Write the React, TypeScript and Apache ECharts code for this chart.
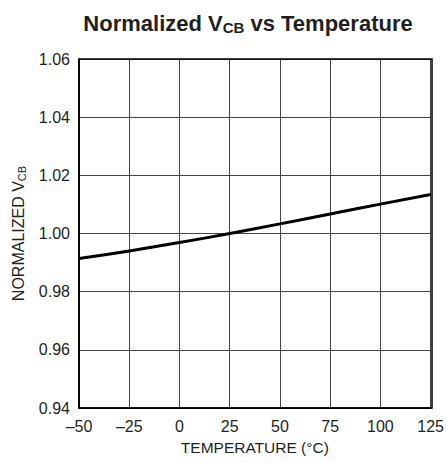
import React, { useEffect, useRef } from "react";
import * as echarts from "echarts";

const temperatures = [-50, -25, 0, 25, 50, 75, 100, 125];
const normalizedVcb = [0.9914, 0.994, 0.9969, 1.0, 1.0033, 1.0067, 1.0101, 1.0134];
const xTicks = { min: -50, max: 125, interval: 25 };
const yTicks = { min: 0.94, max: 1.06, interval: 0.02 };

const FONT = "'Liberation Sans', Arial, sans-serif";
const INK = "#231f20";

export default function App() {
  const ref = useRef<HTMLDivElement>(null);
  useEffect(() => {
    if (!ref.current) return;
    const chart = echarts.init(ref.current, undefined, { renderer: "svg" });
    chart.setOption({
      animation: false,
      backgroundColor: "#fff",
      title: {
        text: "{a|Normalized V}{sub|CB}{a| vs Temperature}",
        left: 243,
        textAlign: "center",
        top: 6,
        textStyle: {
          rich: {
            a: { fontFamily: FONT, fontWeight: "bold", fontSize: 22, color: INK },
            sub: { fontFamily: FONT, fontWeight: "bold", fontSize: 15, color: INK, padding: [9, 0, 0, 0] },
          },
        },
      },
      grid: { left: 79, right: 15, top: 59, bottom: 55, containLabel: false },
      xAxis: {
        type: "value",
        min: xTicks.min,
        max: xTicks.max,
        interval: xTicks.interval,
        name: "TEMPERATURE (°C)",
        nameLocation: "middle",
        nameGap: 31,
        nameTextStyle: { fontFamily: FONT, fontSize: 15.5, color: INK },
        axisLine: { show: true, onZero: false, lineStyle: { color: "#000", width: 1.5 } },
        axisTick: { show: false },
        axisLabel: {
          fontFamily: FONT,
          fontSize: 16,
          color: INK,
          margin: 10,
          formatter: (v: number) => String(v).replace("-", "\u2013"),
        },
        splitLine: { show: true, lineStyle: { color: "#444", width: 1 } },
      },
      yAxis: {
        type: "value",
        min: yTicks.min,
        max: yTicks.max,
        interval: yTicks.interval,
        name: "{a|NORMALIZED V}{sub|CB}",
        nameLocation: "middle",
        nameGap: 47,
        nameTextStyle: {
          rich: {
            a: { fontFamily: FONT, fontSize: 16, color: INK },
            sub: { fontFamily: FONT, fontSize: 11, color: INK, padding: [7, 0, 0, 0] },
          },
        },
        axisLine: { show: true, onZero: false, lineStyle: { color: "#000", width: 1.5 } },
        axisTick: { show: false },
        axisLabel: {
          fontFamily: FONT,
          fontSize: 16,
          color: INK,
          margin: 9,
          formatter: (v: number) => v.toFixed(2),
        },
        splitLine: { show: true, lineStyle: { color: "#444", width: 1 } },
      },
      graphic: [
        {
          type: "rect",
          shape: { x: 79, y: 59, width: 353, height: 349 },
          style: { fill: "none", stroke: "#000", lineWidth: 1.5 },
          silent: true,
          z: 10,
        },
      ],
      series: [
        {
          type: "line",
          data: temperatures.map((t, i) => [t, normalizedVcb[i]]),
          showSymbol: false,
          smooth: true,
          lineStyle: { color: "#000", width: 3 },
        },
      ],
    });
    return () => chart.dispose();
  }, []);
  return <div ref={ref} style={{ width: 447, height: 463, position: "absolute", left: 0, top: 0 }} />;
}
